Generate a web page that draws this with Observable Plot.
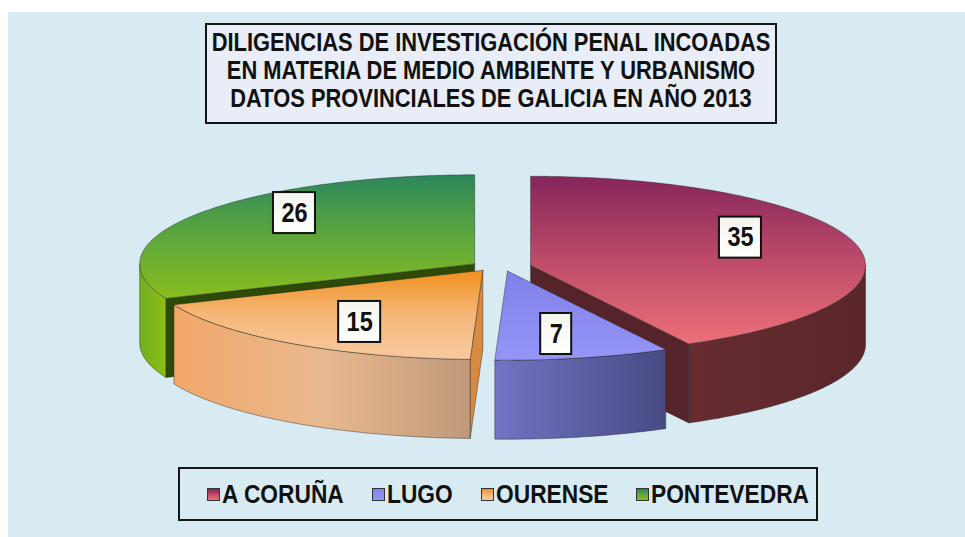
<!DOCTYPE html>
<html>
<head>
<meta charset="utf-8">
<script src="https://cdn.jsdelivr.net/npm/d3@7"></script>
<script src="https://cdn.jsdelivr.net/npm/@observablehq/plot@0.6"></script>
<style>
  body { margin: 0; background: #ffffff; font-family: "Liberation Sans Narrow", "Arial Narrow", "Liberation Sans", Arial, sans-serif; }
  #panel { position: absolute; left: 8px; top: 12px; width: 957px; height: 525px; background: #d9ebf2; }
  #title { position: absolute; left: 197px; top: 11px; width: 572px; height: 101px; box-sizing: border-box;
           border: 2px solid #151515; background: #e8edf7; overflow: hidden; }
  #title .lines { position: absolute; left: 50%; top: 3px; width: 800px; margin-left: -400px; text-align: center;
                  font-weight: bold; font-size: 25px; line-height: 28px; color: #111; white-space: nowrap;
                  transform: scaleX(0.875); transform-origin: 50% 50%; }
  #chart { position: absolute; left: 0; top: 123px; }
  #legend { position: absolute; left: 170px; top: 455px; width: 640px; height: 54px; box-sizing: border-box;
            border: 2px solid #151515; display: flex; align-items: center; padding-left: 27px; overflow: hidden; }
  .item { display: flex; align-items: center; margin-right: 28px; font-weight: bold; font-size: 25px; color: #111; white-space: nowrap; }
  .item .txt { display: inline-block; transform: scaleX(0.91); transform-origin: 0 50%; }
  .sw { width: 11px; height: 11px; border: 1.5px solid #333; margin-right: 2px; margin-top: 1px; flex: none; }
</style>
</head>
<body>
<div id="panel">
  <div id="title"><div class="lines"></div></div>
  <div id="chart"></div>
  <div id="legend"></div>
</div>
<script>
// Diligencias por provincia, Galicia 2013
const provinces = ["A CORUÑA", "LUGO", "OURENSE", "PONTEVEDRA"];
const counts = [35, 7, 15, 26];
const titleLines = [
  "DILIGENCIAS DE INVESTIGACIÓN PENAL INCOADAS",
  "EN MATERIA DE MEDIO AMBIENTE Y URBANISMO",
  "DATOS PROVINCIALES DE GALICIA EN AÑO 2013"
];

// Shading per province: top face (back → front), outer wall (left → right), cut face
const shades = [
  {top: ["#86265a", "#bd4b69", "#ec7077"], wall: ["#662c31", "#5a262a"], cut: "#55232a"},
  {top: ["#8080ea", "#9595f7"], wall: ["#7273c4", "#474a82"], cut: "#4a4c84"},
  {top: ["#f18f1c", "#f5b879", "#f7c9a0"], wall: ["#f3a76a", "#e8b98f", "#c0997a"], cut: "#d88a40"},
  {top: ["#2b875c", "#5ea73c", "#88bd1e"], wall: ["#74ad1f", "#8cbf12"], cut: "#2d4a07"}
];

// Title and legend (text condensed horizontally)
d3.select("#title .lines").selectAll("div").data(titleLines).join("div").text(d => d);
const legendItems = d3.select("#legend").selectAll("div").data(provinces).join("div").attr("class", "item");
legendItems.append("span").attr("class", "sw")
  .style("background", (d, i) => `linear-gradient(${shades[i].top.join(",")})`);
legendItems.append("span").attr("class", "txt").text(d => d);
legendItems.select(".txt").each(function() {
  this.style.marginRight = `${-(1 - 0.91) * this.offsetWidth}px`;
});

// Projection of the tilted, exploded pie (units: 1 = pie radius)
const W = 957, H = 320, R = 335, CX = 492, CY = 131;
const TILT = 0.266, DEPTH = 0.236, EXPLODE = 0.0925, EXPLODE_TILT = 0.15;
const LABEL_RX = 0.646, LABEL_RY = 0.836, LABEL_LIFT = 0.0287, LABEL_CONDENSE = 0.87;

const arcs = d3.pie().sort(null).value(d => d)(counts);
const slices = arcs.map((a, i) => {
  const a0 = a.startAngle, a1 = a.endAngle, mid = (a0 + a1) / 2;
  const ox = EXPLODE * Math.sin(mid), oy = EXPLODE * EXPLODE_TILT * Math.cos(mid);
  const pt = (t, r, h) => ({x: ox + r * Math.sin(t), y: oy + r * TILT * Math.cos(t) - h});
  const rim = (t0, t1, h) => {
    const n = Math.max(2, Math.ceil((t1 - t0) / 0.01));
    return d3.range(n + 1).map(k => pt(t0 + (t1 - t0) * k / n, 1, h));
  };
  const c0 = pt(0, 0, 0), c1 = pt(0, 0, DEPTH);
  const faces = [];
  // cut faces turned towards the viewer
  if (Math.sin(a0) < -1e-6) faces.push({pts: [c0, pt(a0, 1, 0), pt(a0, 1, DEPTH), c1, c0], fill: shades[i].cut});
  if (Math.sin(a1) > 1e-6) faces.push({pts: [c0, pt(a1, 1, 0), pt(a1, 1, DEPTH), c1, c0], fill: shades[i].cut});
  // outer wall (front half only)
  const w0 = Math.max(a0, Math.PI / 2), w1 = Math.min(a1, 3 * Math.PI / 2);
  if (w0 < w1) {
    const up = rim(w0, w1, 0), down = rim(w0, w1, DEPTH).reverse();
    faces.push({pts: [...up, ...down, up[0]], fill: `url(#wall${i})`});
  }
  // top face
  faces.push({pts: [c0, ...rim(a0, a1, 0), c0], fill: `url(#top${i})`});
  const text = String(counts[i]);
  const label = {
    x: ox + LABEL_RX * Math.sin(mid),
    y: oy + LABEL_RY * TILT * Math.cos(mid) + LABEL_LIFT,
    text,
    w: (20 + 11 * text.length) / R,
    h: 41 / R
  };
  return {i, oy, faces, label};
});

// Back slices first
const order = slices.slice().sort((a, b) => b.oy - a.oy);

function defs() {
  const g = d3.create("svg:defs");
  shades.forEach((s, i) => {
    const top = g.append("linearGradient").attr("id", `top${i}`).attr("x1", 0).attr("y1", 0).attr("x2", 0).attr("y2", 1);
    s.top.forEach((c, k) => top.append("stop").attr("offset", k / (s.top.length - 1)).attr("stop-color", c));
    const wall = g.append("linearGradient").attr("id", `wall${i}`).attr("x1", 0).attr("y1", 0).attr("x2", 1).attr("y2", 0);
    s.wall.forEach((c, k) => wall.append("stop").attr("offset", k / (s.wall.length - 1)).attr("stop-color", c));
  });
  const lbl = g.append("linearGradient").attr("id", "lbl").attr("x1", 0).attr("y1", 0).attr("x2", 0).attr("y2", 1);
  lbl.append("stop").attr("offset", 0).attr("stop-color", "#f4f4ef");
  lbl.append("stop").attr("offset", 1).attr("stop-color", "#ffffff");
  return g.node();
}

const faceMarks = order.flatMap(s => s.faces.map(f =>
  Plot.line(f.pts, {x: "x", y: "y", fill: f.fill, stroke: "#262626", strokeWidth: 0.8, strokeOpacity: 0.55, curve: "linear"})
));
const labels = slices.map(s => s.label);

const chart = Plot.plot({
  width: W,
  height: H,
  margin: 0,
  style: {background: "transparent", overflow: "visible"},
  x: {domain: [-1, 1], range: [CX - R, CX + R], axis: null},
  y: {domain: [-1, 1], range: [CY + R, CY - R], axis: null},
  marks: [
    defs,
    ...faceMarks,
    Plot.rect(labels, {
      x1: d => d.x - d.w / 2, x2: d => d.x + d.w / 2,
      y1: d => d.y - d.h / 2, y2: d => d.y + d.h / 2,
      fill: "url(#lbl)", stroke: "#111", strokeWidth: 2
    }),
    Plot.text(labels, {
      x: "x", y: "y", text: "text", fill: "#111",
      fontSize: 27, fontWeight: "bold",
      fontFamily: "'Liberation Sans Narrow', 'Arial Narrow', 'Liberation Sans', Arial, sans-serif"
    })
  ]
});

// condense the value labels horizontally, like the title and legend
d3.select(chart).selectAll("g[aria-label=text] text").each(function() {
  const t = this.getAttribute("transform");
  if (t) this.setAttribute("transform", `${t} scale(${LABEL_CONDENSE},1)`);
});
document.getElementById("chart").appendChild(chart);
</script>
</body>
</html>
